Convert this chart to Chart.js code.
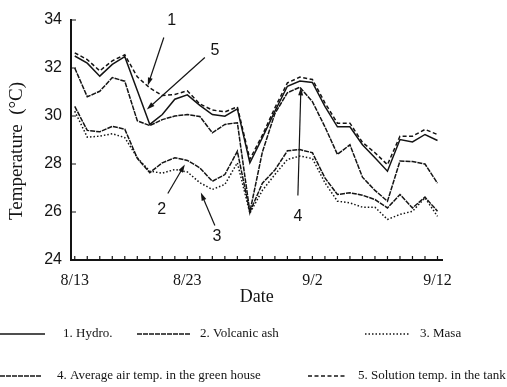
<!DOCTYPE html>
<html>
<head>
<meta charset="utf-8">
<script src="https://cdn.jsdelivr.net/npm/chart.js@4.4.1/dist/chart.umd.min.js"></script>
<style>
    html, body { margin: 0; padding: 0; background: #fff; }
    .chartbox { position: relative; width: 507px; height: 387px; }
</style>
</head>
<body>
<div class="chartbox"><canvas id="tempChart" width="507" height="387"></canvas></div>
<script>
// data
var dates = ['8/14', '8/15', '8/16', '8/17', '8/18', '8/19', '8/20', '8/21', '8/22', '8/23',
    '8/24', '8/25', '8/26', '8/27', '8/28', '8/29', '8/30', '8/31', '9/1', '9/2',
    '9/3', '9/4', '9/5', '9/6', '9/7', '9/8', '9/9', '9/10', '9/11', '9/12'];
var tickIndex = [0, 9, 19, 29];
var tickLabels = ['8/13', '8/23', '9/2', '9/12'];
var yTicks = [24, 26, 28, 30, 32, 34];

var hydro = [32.5, 32.2, 31.66, 32.15, 32.47, 31.06, 29.65, 30.06, 30.7, 30.88,
    30.44, 30.06, 29.99, 30.3, 28.05, 29.1, 30.2, 31.24, 31.46, 31.4,
    30.4, 29.55, 29.55, 28.8, 28.26, 27.7, 29.02, 28.92, 29.23, 28.98];
var volcanicAsh = [30.4, 29.4, 29.34, 29.57, 29.45, 28.24, 27.64, 28.05, 28.26, 28.15,
    27.84, 27.28, 27.56, 28.53, 26.0, 27.2, 27.75, 28.55, 28.6, 28.47,
    27.42, 26.73, 26.8, 26.7, 26.52, 26.17, 26.73, 26.17, 26.62, 26.03];
var masa = [30.2, 29.12, 29.16, 29.26, 29.1, 28.26, 27.7, 27.62, 27.77, 27.67,
    27.22, 26.94, 27.15, 28.05, 25.95, 26.9, 27.56, 28.19, 28.33, 28.23,
    27.22, 26.45, 26.38, 26.2, 26.2, 25.69, 25.9, 26.03, 26.59, 25.82];
var airTemp = [32.0, 30.8, 31.03, 31.6, 31.45, 29.8, 29.6, 29.85, 30.0, 30.06,
    29.98, 29.3, 29.65, 29.72, 26.0, 28.5, 30.1, 30.97, 31.2, 30.6,
    29.55, 28.4, 28.8, 27.45, 26.9, 26.45, 28.12, 28.1, 28.0, 27.2];
var solutionTemp = [32.63, 32.35, 31.88, 32.3, 32.55, 31.63, 31.17, 30.85, 30.9, 31.05,
    30.5, 30.25, 30.17, 30.38, 28.2, 29.2, 30.34, 31.38, 31.62, 31.52,
    30.55, 29.7, 29.7, 28.9, 28.47, 27.97, 29.16, 29.16, 29.44, 29.23];

var seriesNames = ['1. Hydro.', '2. Volcanic ash', '3. Masa',
    '4. Average air temp. in the green house', '5. Solution temp. in the tank'];

// arrows with their numbers, in data units
var notes = [
    { text: '1', at: [7.76, 33.98], from: [7.12, 33.27], to: [5.84, 31.27] },
    { text: '5', at: [11.2, 32.73], from: [10.4, 32.44], to: [5.76, 30.27] },
    { text: '2', at: [6.96, 26.1], from: [7.44, 26.77], to: [8.8, 27.98] },
    { text: '3', at: [11.36, 24.98], from: [11.2, 25.44], to: [10.08, 26.81] },
    { text: '4', at: [17.84, 25.81], from: [17.84, 26.69], to: [18.08, 31.19] }
];

var ink = '#141414';
var dashes = [[], [5, 1], [1.5, 2], [5, 1], [4, 2.5]];

function toPoints(arr) {
    return arr.map(function (v, i) { return { x: i, y: v }; });
}

function makeSet(label, arr, k) {
    return {
        label: label,
        data: toPoints(arr),
        borderColor: ink,
        borderWidth: 1.5,
        borderDash: dashes[k],
        pointRadius: 0,
        tension: 0,
        fill: false
    };
}

// legend slots: row, line start, line end, text start
var legendSlots = [
    [0, 0, 45, 63], [0, 137, 190, 200], [0, 365, 410, 420],
    [1, 0, 42, 57], [1, 308, 345, 358]
];
var legendRowY = [334, 376];

var overlay = {
    id: 'overlay',
    afterDraw: function (chart) {
        var ctx = chart.ctx;
        var xs = chart.scales.x, ys = chart.scales.y;
        var area = chart.chartArea;
        ctx.save();
        ctx.strokeStyle = ink;
        ctx.fillStyle = ink;
        ctx.lineWidth = 1.2;

        // inward ticks
        ctx.beginPath();
        dates.forEach(function (d, i) {
            var px = xs.getPixelForValue(i);
            ctx.moveTo(px, area.bottom);
            ctx.lineTo(px, area.bottom - 4);
        });
        yTicks.forEach(function (v) {
            var py = ys.getPixelForValue(v);
            ctx.moveTo(area.left, py);
            ctx.lineTo(area.left + 5, py);
        });
        ctx.stroke();

        // arrows
        ctx.font = '16px "Liberation Sans"';
        ctx.textAlign = 'center';
        ctx.textBaseline = 'middle';
        notes.forEach(function (n) {
            var x0 = xs.getPixelForValue(n.from[0]), y0 = ys.getPixelForValue(n.from[1]);
            var x1 = xs.getPixelForValue(n.to[0]), y1 = ys.getPixelForValue(n.to[1]);
            var ang = Math.atan2(y1 - y0, x1 - x0);
            ctx.beginPath();
            ctx.moveTo(x0, y0);
            ctx.lineTo(x1 - 5 * Math.cos(ang), y1 - 5 * Math.sin(ang));
            ctx.stroke();
            ctx.beginPath();
            ctx.moveTo(x1, y1);
            ctx.lineTo(x1 - 8 * Math.cos(ang) + 2.5 * Math.sin(ang), y1 - 8 * Math.sin(ang) - 2.5 * Math.cos(ang));
            ctx.lineTo(x1 - 8 * Math.cos(ang) - 2.5 * Math.sin(ang), y1 - 8 * Math.sin(ang) + 2.5 * Math.cos(ang));
            ctx.closePath();
            ctx.fill();
            ctx.fillText(n.text, xs.getPixelForValue(n.at[0]), ys.getPixelForValue(n.at[1]));
        });

        // axis titles
        ctx.font = '18px "Liberation Serif"';
        ctx.fillText('Date', (area.left + area.right) / 2, 297);
        ctx.save();
        ctx.translate(17, 151);
        ctx.rotate(-Math.PI / 2);
        ctx.font = '19px "Liberation Serif"';
        ctx.fillText('Temperature  (\u00b0C)', 0, 0);
        ctx.restore();

        // legend
        ctx.font = '13px "Liberation Serif"';
        ctx.textAlign = 'left';
        chart.data.datasets.forEach(function (ds, k) {
            var slot = legendSlots[k];
            var y = legendRowY[slot[0]];
            ctx.beginPath();
            ctx.setLineDash(ds.borderDash);
            ctx.lineWidth = 1.3;
            ctx.moveTo(slot[1], y);
            ctx.lineTo(slot[2], y);
            ctx.stroke();
            ctx.setLineDash([]);
            ctx.fillText(ds.label, slot[3], y);
        });
        ctx.restore();
    }
};

var ctx = document.getElementById('tempChart').getContext('2d');
var tempChart = new Chart(ctx, {
    type: 'line',
    data: {
        datasets: [
            makeSet(seriesNames[0], hydro, 0),
            makeSet(seriesNames[1], volcanicAsh, 1),
            makeSet(seriesNames[2], masa, 2),
            makeSet(seriesNames[3], airTemp, 3),
            makeSet(seriesNames[4], solutionTemp, 4)
        ]
    },
    options: {
        responsive: false,
        animation: false,
        devicePixelRatio: 1,
        layout: { padding: { top: 20, right: 64.5, left: 0, bottom: 0 } },
        plugins: {
            legend: { display: false },
            tooltip: { enabled: false }
        },
        scales: {
            x: {
                type: 'linear',
                min: -0.3,
                max: 29.4,
                afterBuildTicks: function (s) {
                    s.ticks = dates.map(function (d, i) { return { value: i }; });
                },
                afterFit: function (s) { s.height = 127; },
                grid: { display: false, drawTicks: false },
                border: { display: true, color: ink, width: 2 },
                ticks: {
                    autoSkip: false,
                    maxRotation: 0,
                    padding: 11,
                    color: ink,
                    font: { family: 'Liberation Serif', size: 16 },
                    callback: function (v) {
                        var k = tickIndex.indexOf(v);
                        return k < 0 ? '' : tickLabels[k];
                    }
                }
            },
            y: {
                min: 24,
                max: 34,
                afterBuildTicks: function (s) {
                    s.ticks = yTicks.map(function (v) { return { value: v }; });
                },
                afterFit: function (s) { s.width = 71; },
                grid: { display: false, drawTicks: false },
                border: { display: true, color: ink, width: 2 },
                ticks: {
                    padding: 9,
                    color: ink,
                    font: { family: 'Liberation Sans', size: 16 }
                }
            }
        }
    },
    plugins: [overlay]
});
</script>
</body>
</html>
